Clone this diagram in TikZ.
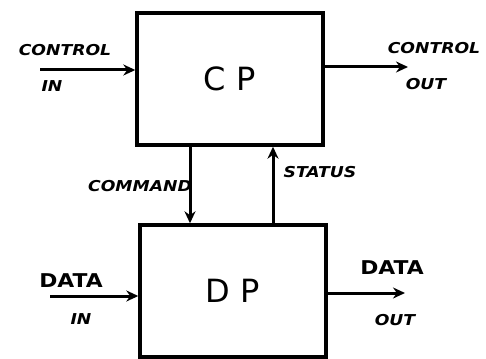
\documentclass[tikz,border=0pt]{standalone}
\usepackage{fontspec}
\setmainfont{DejaVu Sans}
\usetikzlibrary{arrows.meta}
\begin{document}
\begin{tikzpicture}[x=1pt,y=-1pt,
  box/.style={draw,line width=3.4pt,minimum width=186pt,minimum height=132pt,inner sep=0pt,font=\fontsize{32}{34}\selectfont},
  wire/.style={line width=3pt,-{Stealth[length=12pt,width=11pt]}},
  lab/.style={font=\bfseries\itshape\fontsize{15}{16}\selectfont,xscale=1.15,transform shape,inner sep=0pt},
  big/.style={font=\bfseries\fontsize{19}{20}\selectfont,xscale=1.15,transform shape,inner sep=0pt}]
\useasboundingbox (0,0) rectangle (486,358);
\node[box] (cp) at (230,79) {C\,\,P};
\node[box] (dp) at (233,291) {D\,\,P};
\coordinate (ci) at (40,70);
\coordinate (co) at (408,67);
\coordinate (di) at (50,296);
\coordinate (do) at (405,293);
\draw[wire] (ci) -- (ci -| cp.west);
\draw[wire] (cp.east |- co) -- (co);
\draw[wire] (di) -- (di -| dp.west);
\draw[wire] (dp.east |- do) -- (do);
\coordinate (cmd) at (190,0);
\coordinate (sts) at (273,0);
\draw[wire] (cmd |- cp.south) -- (cmd |- dp.north);
\draw[wire] (sts |- dp.north) -- (sts |- cp.south);
\node[lab] (t1) at (65,50) {CONTROL};
\node[lab] (t2) at (52,86) {IN};
\node[lab] (t3) at (434,48) {CONTROL};
\node[lab] (t4) at (426,84) {OUT};
\node[lab] (t5) at (140,186) {COMMAND};
\node[lab] (t6) at (320,172) {STATUS};
\node[big] (t7) at (71,281) {DATA};
\node[lab] (t8) at (81,319) {IN};
\node[big] (t9) at (392,268) {DATA};
\node[lab] (t10) at (395,320) {OUT};
\end{tikzpicture}
\end{document}
